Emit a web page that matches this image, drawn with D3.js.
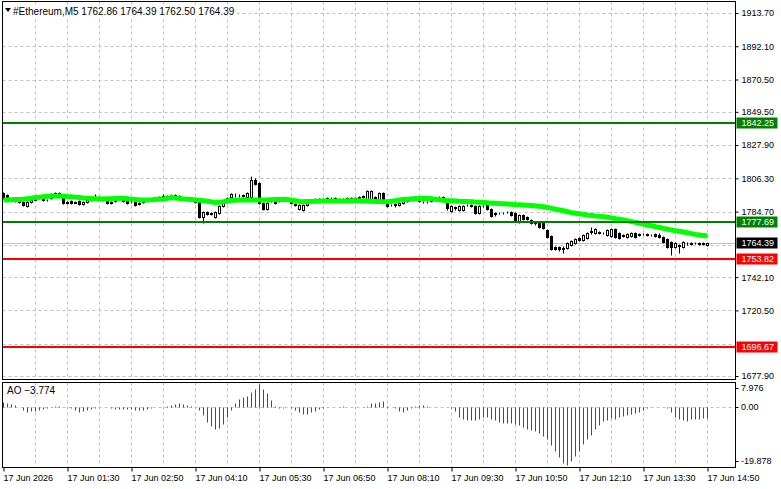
<!DOCTYPE html>
<html><head><meta charset="utf-8">
<script src="https://cdn.jsdelivr.net/npm/d3@7"></script>
<style>
body{margin:0;background:#fff}
svg{display:block}
text{font-family:"Liberation Sans",Arial,sans-serif;fill:#000}
</style>
</head><body><svg id="c" width="781" height="489"></svg>
<script>
// ---------- DATA ----------
const symbol = "#Ethereum,M5";
const lastOHLC = [1762.86, 1764.39, 1762.50, 1764.39];
const startTime = "2026-06-17T00:10:00";
const barMinutes = 5;

const open = [
1796.8,1795.5,1792.9,1792.2,1791.6,1790.9,1788.3,1790.9,1792.2,1793.5,
1794.2,1792.2,1793.5,1795.5,1796.8,1794.8,1790.3,1791.6,1790.3,1791.6,
1789.6,1790.9,1792.2,1793.5,1794.2,1792.9,1792.2,1790.3,1791.6,1792.9,
1793.5,1791.6,1790.9,1790.9,1789.6,1790.9,1792.2,1792.9,1792.2,1793.5,
1794.2,1794.8,1794.8,1794.2,1794.8,1793.5,1792.9,1793.5,1792.9,1790.9,
1781.2,1784.4,1783.8,1781.2,1783.8,1788.3,1790.9,1794.2,1795.5,1795.5,
1794.8,1794.2,1794.2,1805.2,1803.3,1790.3,1786.4,1791.6,1790.9,1791.6,
1792.9,1793.5,1792.2,1789.6,1786.4,1785.7,1789.0,1790.9,1792.2,1792.9,
1792.2,1792.9,1793.5,1793.5,1792.9,1792.2,1792.9,1793.5,1792.9,1793.5,
1794.2,1792.9,1792.9,1794.2,1792.9,1796.8,1790.3,1789.0,1789.6,1789.0,
1790.3,1791.6,1793.5,1794.2,1792.9,1790.9,1790.9,1791.6,1792.9,1794.2,
1794.2,1790.3,1785.1,1787.7,1785.7,1785.7,1789.0,1789.0,1788.3,1783.8,
1788.3,1789.0,1786.4,1783.8,1783.8,1783.8,1784.4,1784.4,1783.8,1777.9,
1782.5,1781.2,1779.2,1777.9,1777.9,1777.3,1772.7,1768.8,1761.7,1761.7,
1760.4,1761.1,1763.0,1764.3,1767.5,1766.3,1767.5,1772.1,1770.8,1771.4,
1770.8,1769.5,1768.8,1773.4,1770.8,1769.5,1768.2,1768.8,1770.8,1770.1,
1770.1,1770.1,1769.5,1770.1,1769.5,1768.2,1766.9,1765.0,1761.7,1763.0,
1761.7,1764.3,1764.3,1764.3,1764.3,1764.0,1762.86];
const high = [
1797.4,1796.1,1793.5,1792.9,1792.2,1791.6,1791.6,1792.9,1794.2,1794.8,
1794.2,1792.9,1796.8,1797.4,1797.4,1795.5,1791.6,1792.2,1791.6,1792.2,
1791.6,1792.9,1793.5,1796.1,1794.8,1793.5,1792.9,1791.6,1793.5,1794.8,
1794.2,1792.2,1791.6,1791.6,1790.9,1792.9,1793.5,1793.5,1794.2,1794.8,
1796.1,1795.5,1796.1,1796.1,1795.5,1794.2,1794.2,1794.2,1793.5,1791.6,
1785.1,1785.1,1784.4,1785.1,1789.0,1791.6,1794.2,1796.8,1796.8,1796.1,
1796.1,1797.4,1807.8,1806.5,1804.0,1790.9,1790.9,1793.5,1791.6,1793.5,
1794.2,1794.2,1792.9,1790.3,1789.6,1789.6,1791.6,1792.9,1793.5,1793.5,
1793.5,1794.2,1794.2,1794.2,1793.5,1793.5,1794.2,1794.2,1794.2,1794.8,
1795.5,1798.7,1798.7,1794.8,1797.4,1797.4,1790.9,1789.6,1790.3,1790.9,
1792.2,1793.5,1794.8,1794.8,1793.5,1791.6,1791.6,1793.5,1794.2,1794.8,
1794.8,1790.9,1789.0,1788.3,1789.0,1789.0,1789.6,1789.6,1789.0,1789.0,
1789.0,1789.6,1787.0,1784.4,1784.4,1784.4,1785.1,1785.1,1784.4,1783.1,
1783.1,1781.8,1779.9,1778.6,1778.6,1777.9,1773.4,1769.5,1762.4,1762.4,
1762.4,1765.0,1766.3,1767.5,1768.2,1770.1,1771.4,1774.7,1774.0,1772.1,
1771.4,1773.4,1774.0,1774.0,1771.4,1770.1,1770.8,1771.4,1771.4,1770.8,
1770.8,1770.8,1770.1,1770.8,1770.8,1768.8,1767.5,1765.6,1765.0,1763.7,
1765.6,1765.0,1765.0,1765.0,1765.0,1765.0,1764.39];
const low = [
1792.9,1792.9,1791.6,1790.9,1790.3,1788.3,1787.7,1790.3,1792.2,1792.9,
1791.6,1791.6,1793.0,1795.0,1794.2,1789.6,1789.6,1789.6,1790.3,1789.0,
1789.0,1790.3,1791.6,1792.9,1792.2,1791.6,1789.6,1789.6,1790.9,1792.2,
1790.9,1789.6,1790.3,1788.3,1789.0,1790.3,1791.6,1791.6,1791.6,1792.9,
1793.5,1794.2,1794.2,1793.5,1792.9,1792.2,1792.2,1792.2,1790.3,1780.5,
1777.3,1782.5,1782.5,1780.5,1783.1,1787.7,1790.3,1793.5,1794.2,1794.2,
1794.2,1793.5,1793.5,1801.9,1789.6,1785.7,1785.7,1790.9,1789.6,1790.9,
1792.2,1792.2,1789.6,1788.3,1785.7,1785.1,1788.3,1790.3,1791.6,1791.6,
1791.6,1792.2,1792.9,1792.2,1791.6,1791.6,1792.2,1792.2,1792.2,1792.9,
1793.5,1792.2,1792.2,1792.2,1792.2,1792.2,1787.7,1788.3,1787.7,1788.3,
1789.6,1790.9,1792.9,1792.2,1790.9,1790.3,1790.3,1790.9,1792.2,1793.5,
1792.9,1785.7,1784.4,1785.7,1785.1,1785.1,1788.3,1787.7,1783.1,1783.1,
1787.7,1785.7,1781.2,1781.8,1783.1,1783.1,1783.8,1781.8,1777.9,1777.3,
1779.2,1779.2,1776.6,1776.0,1774.0,1773.4,1767.5,1759.8,1759.8,1759.1,
1757.8,1760.4,1762.4,1763.7,1765.6,1765.6,1766.9,1770.1,1770.1,1770.1,
1770.1,1768.8,1768.2,1767.5,1766.9,1768.2,1767.5,1768.2,1767.5,1768.8,
1769.5,1768.8,1768.8,1768.2,1767.5,1764.3,1761.1,1756.5,1761.1,1757.8,
1761.1,1763.0,1763.0,1763.7,1763.0,1763.0,1762.50];
const close = [
1793.5,1793.5,1792.2,1791.6,1790.9,1789.0,1790.9,1792.2,1793.5,1794.2,
1792.2,1792.4,1796.1,1796.8,1794.8,1790.3,1790.9,1790.3,1790.9,1789.6,
1790.9,1792.2,1792.9,1794.2,1792.9,1792.2,1790.3,1790.9,1792.9,1794.2,
1791.6,1790.3,1790.8,1789.0,1790.3,1792.2,1792.9,1792.2,1793.5,1794.2,
1794.8,1794.9,1794.6,1795.5,1793.5,1792.9,1793.5,1792.9,1790.9,1781.2,
1784.4,1783.1,1783.1,1784.4,1788.3,1790.9,1793.5,1796.1,1795.3,1795.6,
1795.5,1796.8,1805.2,1802.6,1790.3,1786.4,1790.3,1792.9,1790.3,1792.9,
1793.5,1792.9,1790.3,1789.0,1789.0,1789.0,1790.9,1792.2,1792.9,1792.2,
1792.9,1793.5,1793.4,1792.9,1792.2,1792.9,1793.5,1792.9,1793.5,1794.2,
1794.8,1798.1,1798.1,1792.9,1796.8,1792.9,1788.3,1788.9,1789.0,1790.3,
1791.6,1792.9,1794.2,1792.9,1791.6,1791.0,1790.8,1792.9,1793.5,1794.1,
1793.5,1787.0,1788.3,1787.0,1788.3,1788.3,1788.9,1788.3,1783.8,1788.3,
1788.2,1786.4,1781.8,1783.1,1783.7,1783.9,1784.3,1782.5,1778.6,1782.5,
1779.9,1779.9,1777.3,1777.3,1774.7,1774.0,1768.2,1760.4,1760.4,1760.4,
1761.1,1764.3,1765.6,1766.9,1766.3,1769.5,1770.8,1771.4,1773.4,1770.8,
1770.7,1772.7,1773.4,1768.2,1767.5,1768.8,1770.1,1770.8,1768.2,1769.5,
1770.0,1769.5,1769.4,1768.8,1768.2,1765.0,1761.7,1761.7,1764.3,1762.4,
1765.0,1764.4,1763.7,1764.2,1763.9,1763.6,1764.39];
const ma = [
1792.2,1792.3,1792.4,1792.5,1792.6,1792.7,1793.0,1793.4,1793.8,1794.1,
1794.4,1794.6,1794.7,1794.8,1794.8,1794.7,1794.5,1794.4,1794.1,1793.8,
1793.5,1793.3,1793.1,1793.0,1792.9,1792.9,1793.0,1793.1,1793.2,1793.3,
1793.3,1793.1,1792.8,1792.5,1792.3,1792.2,1792.3,1792.4,1792.6,1792.8,
1792.9,1793.4,1793.8,1793.6,1793.2,1792.9,1792.7,1792.5,1792.3,1792.0,
1791.8,1791.4,1791.0,1790.5,1790.7,1791.2,1791.8,1792.0,1792.1,1792.2,
1792.2,1792.2,1792.3,1792.3,1792.2,1792.2,1792.3,1792.4,1792.5,1792.6,
1792.7,1792.5,1792.1,1791.7,1791.3,1791.1,1791.2,1791.3,1791.4,1791.5,
1791.6,1791.6,1791.6,1791.6,1791.6,1791.6,1791.7,1791.8,1791.8,1791.7,
1791.6,1791.5,1791.4,1791.3,1791.2,1791.1,1791.1,1791.4,1791.8,1792.2,
1792.5,1792.7,1792.9,1793.1,1793.2,1793.3,1793.2,1793.0,1792.7,1792.4,
1792.1,1791.8,1791.7,1791.6,1791.4,1791.3,1791.2,1791.1,1790.9,1790.8,
1790.6,1790.4,1790.2,1790.1,1789.9,1789.8,1789.6,1789.5,1789.3,1789.2,
1789.0,1788.8,1788.6,1788.4,1788.2,1787.9,1787.4,1786.8,1786.2,1785.7,
1785.2,1784.6,1784.0,1783.6,1783.3,1782.9,1782.5,1782.2,1781.9,1781.7,
1781.4,1781.0,1780.6,1780.1,1779.7,1779.2,1778.7,1778.2,1777.7,1777.1,
1776.6,1776.0,1775.5,1774.9,1774.4,1773.8,1773.3,1772.7,1772.3,1771.9,
1771.4,1771.0,1770.4,1769.9,1769.5,1769.1,1768.8];
const ao = [
1.8,1.6,1.2,0.8,0.1,-1.0,-1.5,-1.4,-1.3,-1.0,
-0.6,-0.2,0.05,0.3,0.4,0.2,-0.1,-0.3,-0.9,-1.5,
-1.3,-1.0,-0.6,-0.3,-0.1,0.2,0.0,-0.4,-0.45,-0.5,
-0.55,-0.6,-0.7,-1.0,-0.9,-0.8,-0.5,-0.2,-0.05,0.0,
0.05,0.3,0.6,1.0,1.3,1.1,0.9,0.5,0.0,-1.0,
-2.8,-5.0,-6.4,-7.6,-7.3,-5.7,-3.3,-0.9,1.4,2.8,
3.5,4.0,5.3,6.4,7.976,6.2,4.8,2.4,0.4,-0.3,
-0.2,-0.1,-0.4,-1.0,-1.6,-2.5,-2.3,-1.8,-1.2,-0.5,
-0.2,0.0,-0.05,-0.1,-0.05,0.3,0.2,0.1,0.05,0.0,
0.1,0.5,1.3,1.5,1.8,2.2,0.3,0.0,-0.4,-1.2,
-1.6,-1.0,-0.2,0.3,0.9,0.7,0.5,0.2,0.0,0.1,
0.2,0.1,-0.2,-1.3,-3.2,-3.9,-4.3,-4.35,-4.4,-3.9,
-3.4,-3.3,-4.0,-4.4,-5.1,-5.6,-5.4,-5.3,-5.8,-6.2,
-6.8,-7.4,-7.8,-8.3,-8.9,-9.8,-10.9,-13.1,-14.9,-17.1,
-19.1,-19.878,-18.6,-16.9,-15.1,-12.6,-10.9,-9.4,-7.4,-6.1,
-4.9,-4.3,-3.7,-3.9,-3.3,-3.0,-2.8,-2.5,-2.1,-1.7,
-0.8,-0.3,-0.1,0.05,0.1,0.0,-0.4,-1.6,-3.2,-3.9,
-4.3,-4.8,-4.2,-4.0,-3.9,-3.85,-3.774];

const timeTickIdx = [0,16,32,48,64,80,96,112,128,144,160,176];
const timeTickLabels = ["17 Jun 2026","17 Jun 01:30","17 Jun 02:50","17 Jun 04:10","17 Jun 05:30","17 Jun 06:50",
  "17 Jun 08:10","17 Jun 09:30","17 Jun 10:50","17 Jun 12:10","17 Jun 13:30","17 Jun 14:50"];
const gridEveryBars = 8;
const priceTicks = [1913.70,1892.10,1870.50,1849.50,1827.90,1806.30,1784.70,1763.10,1742.10,1720.50,1698.90,1677.90];
const levelValues = [1842.25,1777.69,1753.82,1696.67];
const levelTypes = ["up","up","down","down"];
const bidPrice = 1764.39;
const aoTicks = [7.976,0,-19.878];
const aoTickLabels = ["7.976","0.00","-19.878"];
const aoName = "AO";
const aoLast = -3.774;

// ---------- STYLE ----------
const C = {grid:"#c0c0c0", frame:"#000", up:"#008000", down:"#ff0000", ma:"#00ff00", bid:"#c0c0c0"};
const levelColor = {up:"#008000", down:"#ff0000"};

// ---------- LAYOUT ----------
const L = 2.5, R = 735.5, mainTop = 1.5, mainBot = 379.5, aoTop = 382.5, aoBot = 467.5;
const svg = d3.select("#c");
const t0 = new Date(startTime);
const times = open.map((_, i) => new Date(t0.getTime() + i * barMinutes * 60000));
const x = d3.scaleTime().domain([times[0], times[times.length-1]]).range([3, 707]);
const y = d3.scaleLinear().domain([1677.90, 1913.70]).range([376, 13]);
const ya = d3.scaleLinear().domain([-19.878, 7.976]).range([465, 384]);
const px = i => Math.round(x(times[i])) + 0.5;
const py = v => Math.round(y(v)) + 0.5;

svg.append("rect").attr("width",781).attr("height",489).attr("fill","#fff");
svg.append("defs").append("clipPath").attr("id","mc").append("rect")
  .attr("x",L).attr("y",mainTop).attr("width",R-L).attr("height",mainBot-mainTop);
svg.select("defs").append("clipPath").attr("id","ac").append("rect")
  .attr("x",L).attr("y",aoTop).attr("width",R-L).attr("height",aoBot-aoTop);

// grids
const gridIdx = d3.range(gridEveryBars, times.length, gridEveryBars);
const g = svg.append("g").attr("stroke",C.grid).attr("stroke-dasharray","3,3").attr("stroke-width",1);
g.selectAll(".h").data(priceTicks).join("line")
  .attr("x1",L).attr("x2",R).attr("y1",d=>py(d)).attr("y2",d=>py(d));
g.selectAll(".v").data(gridIdx).join("line")
  .attr("x1",d=>px(d)).attr("x2",d=>px(d)).attr("y1",mainTop).attr("y2",mainBot);
g.selectAll(".va").data(gridIdx).join("line")
  .attr("x1",d=>px(d)).attr("x2",d=>px(d)).attr("y1",aoTop).attr("y2",aoBot);
g.append("line").attr("x1",L).attr("x2",R).attr("y1",Math.round(ya(0))+0.5).attr("y2",Math.round(ya(0))+0.5);

// bid line
svg.append("line").attr("x1",L).attr("x2",R).attr("y1",py(bidPrice)).attr("y2",py(bidPrice))
  .attr("stroke",C.bid).attr("stroke-width",1);

// candles
const cg = svg.append("g").attr("clip-path","url(#mc)");
const idx = d3.range(times.length);
cg.selectAll(".w").data(idx).join("line")
  .attr("x1",px).attr("x2",px).attr("y1",i=>py(high[i])).attr("y2",i=>py(low[i]))
  .attr("stroke","#000").attr("stroke-width",1);
cg.selectAll(".b").data(idx).join("rect")
  .attr("x",i=>px(i)-1).attr("width",2)
  .attr("y",i=>py(Math.max(open[i],close[i])))
  .attr("height",i=>Math.max(0, py(Math.min(open[i],close[i])) - py(Math.max(open[i],close[i]))))
  .attr("fill",i=>close[i]>=open[i]?"#fff":"#000")
  .attr("stroke","#000").attr("stroke-width",1);

// MA
cg.append("path").datum(idx)
  .attr("d", d3.line().x(i=>x(times[i])+0.5).y(i=>y(ma[i])))
  .attr("fill","none").attr("stroke",C.ma).attr("stroke-width",5);

// levels
svg.append("g").selectAll("line").data(levelValues).join("line")
  .attr("x1",L).attr("x2",R).attr("y1",d=>Math.round(y(d))).attr("y2",d=>Math.round(y(d)))
  .attr("stroke",(d,i)=>levelColor[levelTypes[i]]).attr("stroke-width",2);

// AO bars
const ag = svg.append("g").attr("clip-path","url(#ac)");
ag.selectAll("line").data(idx).join("line")
  .attr("x1",px).attr("x2",px)
  .attr("y1",Math.round(ya(0))+0.5).attr("y2",i=>Math.round(ya(ao[i]))+0.5)
  .attr("stroke",i=>(i===0||ao[i]>ao[i-1])?C.up:C.down).attr("stroke-width",1);

// frames
svg.append("rect").attr("x",L).attr("y",mainTop).attr("width",R-L).attr("height",mainBot-mainTop)
  .attr("fill","none").attr("stroke",C.frame);
svg.append("rect").attr("x",L).attr("y",aoTop).attr("width",R-L).attr("height",aoBot-aoTop)
  .attr("fill","none").attr("stroke",C.frame);

// right price axis (labels hidden where a level box sits)
const fmt = d3.format(".2f");
const boxes = levelValues.map((v,i)=>({v, fill:levelColor[levelTypes[i]]})).concat([{v:bidPrice, fill:"#000"}]);
const freeTicks = priceTicks.filter(t => boxes.every(b => Math.abs(y(b.v) - y(t)) > 9));
const ra = svg.append("g").attr("transform",`translate(${R},0)`)
  .call(d3.axisRight(y).tickValues(freeTicks).tickFormat(fmt).tickSize(3).tickPadding(3));
ra.select(".domain").remove();
ra.selectAll("line").attr("stroke","#000");
ra.selectAll("text").attr("font-size",9).attr("font-family","Liberation Sans, Arial, sans-serif").attr("fill","#000");

// AO axis
const aoLabY = v => Math.max(388, Math.min(461, ya(v)));
const aa = svg.append("g");
aa.selectAll("line").data(aoTicks).join("line")
  .attr("x1",R).attr("x2",R+3).attr("y1",d=>Math.round(aoLabY(d))+0.5).attr("y2",d=>Math.round(aoLabY(d))+0.5)
  .attr("stroke","#000");
aa.selectAll("text").data(aoTicks).join("text")
  .attr("x",R+5.5).attr("y",d=>aoLabY(d)).attr("dy","0.32em").attr("font-size",9)
  .text((d,i)=>aoTickLabels[i]);

// level labels
const bg = svg.append("g").selectAll("g").data(boxes).join("g")
  .attr("transform",d=>`translate(${R+1},${Math.round(y(d.v))})`);
bg.append("rect").attr("x",0).attr("y",-5.5).attr("width",41).attr("height",11).attr("fill",d=>d.fill);
bg.append("text").attr("x",5).attr("y",0).attr("dy","0.34em").attr("font-size",9)
  .style("fill","#fff").text(d=>fmt(d.v));

// bottom time axis
const ba = svg.append("g").attr("transform",`translate(0,${aoBot})`)
  .call(d3.axisBottom(x).tickValues(timeTickIdx.map(i=>times[i]))
    .tickFormat((d,k)=>timeTickLabels[k]).tickSize(4).tickPadding(3));
ba.select(".domain").remove();
ba.selectAll(".tick line").attr("stroke","#000").attr("transform","translate(0.5,0)");
ba.selectAll("text").attr("font-size",9).attr("text-anchor","start").attr("fill","#000")
  .attr("font-family","Liberation Sans, Arial, sans-serif");

// title
const title = `${symbol}  ${lastOHLC.map(fmt).join(" ")}`;
const tg = svg.append("g");
const tt = tg.append("text").attr("x",13).attr("y",15).attr("font-size",10).text(title);
const bb = tt.node().getBBox();
tg.insert("rect","text").attr("x",4).attr("y",bb.y).attr("width",bb.x+bb.width-4+2).attr("height",bb.height).attr("fill","#fff");
tg.append("path").attr("d","M5,8L11,8L8,12Z").attr("fill","#000");

// AO label
svg.append("text").attr("x",7).attr("y",394).attr("font-size",10).text(`${aoName} ${d3.format(".3f")(aoLast)}`);
</script>
</body></html>
